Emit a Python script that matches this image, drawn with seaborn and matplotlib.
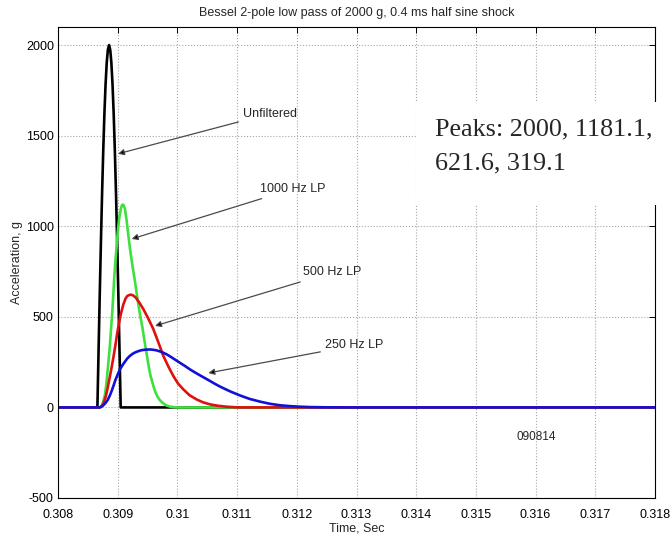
import matplotlib
matplotlib.use("Agg")
import matplotlib.pyplot as plt
import seaborn as sns
import pandas as pd
from matplotlib.patches import Rectangle

# ---------------- data ----------------
t_unf = [0.308000, 0.308660, 0.3086795, 0.308699, 0.3087185, 0.308738, 0.3087575,
         0.308777, 0.3087965, 0.308816, 0.3088355, 0.308855, 0.3088745, 0.308894,
         0.3089135, 0.308933, 0.3089525, 0.308972, 0.3089915, 0.309011, 0.3090305,
         0.309050, 0.318000]
v_unf = [0, 0, 313, 618, 908, 1176, 1414, 1618, 1782, 1902, 1975, 2000, 1975,
         1902, 1782, 1618, 1414, 1176, 908, 618, 313, 0, 0]

t_1000 = [0.308000, 0.308700, 0.308720, 0.308740, 0.308760, 0.308787, 0.308810,
          0.308830, 0.308850, 0.308871, 0.308890, 0.308910, 0.308927, 0.308943,
          0.308960, 0.308980, 0.308995, 0.309010, 0.309030, 0.309055, 0.309070,
          0.309084, 0.309100, 0.309122, 0.309150, 0.309178, 0.309205, 0.309230,
          0.309260, 0.309290, 0.309320, 0.309350, 0.309380, 0.309415, 0.309440,
          0.309470, 0.309500, 0.309525, 0.309550, 0.309580, 0.309610, 0.309640,
          0.309670, 0.309700, 0.309730, 0.309764, 0.309800, 0.309830, 0.309870,
          0.309900, 0.309950, 0.310000, 0.318000]
v_1000 = [0, 0, 5, 15, 35, 72, 130, 200, 270, 350, 440, 530, 625, 722, 800, 880,
          945, 1000, 1055, 1100, 1115, 1120, 1116, 1095, 1030, 950, 880, 820, 755,
          695, 625, 560, 500, 440, 385, 325, 265, 215, 175, 140, 105, 78, 58, 43,
          32, 22, 14, 9, 5, 3, 1, 0, 0]

t_500 = [0.308000, 0.308700, 0.308720, 0.308740, 0.308770, 0.308800, 0.308830,
         0.308860, 0.308899, 0.308930, 0.308960, 0.308985, 0.309010, 0.309050,
         0.309094, 0.309130, 0.309160, 0.309195, 0.309228, 0.309260, 0.309300,
         0.309360, 0.309429, 0.309510, 0.309596, 0.309680, 0.309764, 0.309850,
         0.309931, 0.310010, 0.310099, 0.310200, 0.310323, 0.310430, 0.310546,
         0.310680, 0.310826, 0.310960, 0.311100, 0.318000]
v_500 = [0, 0, 3, 10, 30, 60, 105, 155, 222, 280, 340, 395, 444, 512, 568, 600,
         615, 621, 622, 618, 607, 580, 543, 492, 433, 360, 285, 225, 174, 132,
         100, 68, 44, 28, 17, 9, 4, 1, 0, 0]

t_250 = [0.308000, 0.308700, 0.308730, 0.308760, 0.308795, 0.308830, 0.308865,
         0.308899, 0.308930, 0.308960, 0.309000, 0.309039, 0.309080, 0.309120,
         0.309160, 0.309206, 0.309250, 0.309300, 0.309350, 0.309400, 0.309470,
         0.309541, 0.309600, 0.309650, 0.309700, 0.309764, 0.309820, 0.309880,
         0.309960, 0.310044, 0.310130, 0.310210, 0.310290, 0.310379, 0.310460,
         0.310546, 0.310630, 0.310714, 0.310880, 0.311049, 0.311210, 0.311384,
         0.311550, 0.311719, 0.311890, 0.312054, 0.312220, 0.312389, 0.312800,
         0.318000]
v_250 = [0, 0, 5, 12, 24, 40, 63, 91, 120, 150, 182, 211, 233, 252, 270, 285,
         296, 305, 311, 316, 319, 320, 318, 315, 310, 302, 293, 281, 264, 246,
         228, 210, 194, 177, 162, 146, 130, 115, 89, 66, 47, 32, 20, 12, 7, 4,
         2, 1, 0, 0]

series_names = ["Unfiltered", "1000 Hz LP", "500 Hz LP", "250 Hz LP"]
series_t = [t_unf, t_1000, t_500, t_250]
series_v = [v_unf, v_1000, v_500, v_250]
series_colors = ["#000000", "#3ee03e", "#e01010", "#1010d8"]

# label positions (text left/center) and arrow tips, in data units
label_xy = [(0.311099, 1622), (0.311384, 1206), (0.312104, 746), (0.312472, 342)]
arrow_tip = [(0.309005, 1400), (0.309234, 930), (0.309625, 450), (0.310518, 190)]

x_ticks = [0.308, 0.309, 0.310, 0.311, 0.312, 0.313, 0.314, 0.315, 0.316, 0.317, 0.318]
x_tick_labels = ["0.308", "0.309", "0.31", "0.311", "0.312", "0.313", "0.314",
                 "0.315", "0.316", "0.317", "0.318"]
y_ticks = [-500, 0, 500, 1000, 1500, 2000]

title = "Bessel 2-pole low pass of 2000 g, 0.4 ms half sine shock"
peaks_lines = ["Peaks: 2000, 1181.1,", "621.6, 319.1"]
stamp = "090814"

# ---------------- plotting ----------------
sns.set_theme(style="white")
plt.rcParams["font.family"] = ["Liberation Sans", "DejaVu Sans"]
plt.rcParams["axes.unicode_minus"] = False

W, H = 672, 539
fig = plt.figure(figsize=(W / 100, H / 100), dpi=100)
ax = fig.add_axes([58 / W, 1 - 498 / H, (655 - 58) / W, (498 - 27) / H])

for name, t, v, c in zip(series_names, series_t, series_v, series_colors):
    df = pd.DataFrame({"t": t, "v": v})
    sns.lineplot(data=df, x="t", y="v", color=c, lw=1.9, ax=ax,
                 estimator=None, sort=False)

ax.set_xlim(0.308, 0.318)
ax.set_ylim(-500, 2100)
ax.set_xticks(x_ticks)
ax.set_xticklabels(x_tick_labels)
ax.set_yticks(y_ticks)
ax.grid(True, linestyle=":", color="#a8a8a8", linewidth=0.8)
ax.tick_params(direction="in", top=True, right=True, length=4, width=0.7,
               labelsize=9, colors="black", pad=3)
ax.tick_params(axis="x", pad=8)
for s in ax.spines.values():
    s.set_color("black")
    s.set_linewidth(0.8)

ax.set_title(title, fontsize=9, pad=8)
ax.set_xlabel("Time, Sec", fontsize=9, labelpad=1)
ax.set_ylabel("Acceleration, g", fontsize=9, labelpad=2)

for name, (tx, ty), (ax_, ay_) in zip(series_names, label_xy, arrow_tip):
    ax.annotate(name, xy=(ax_, ay_), xytext=(tx, ty), textcoords="data",
                ha="left", va="center", fontsize=9, zorder=20,
                arrowprops=dict(arrowstyle="-|>", facecolor="black",
                                edgecolor="#4a4a4a", lw=0.9, shrinkA=1,
                                shrinkB=0, mutation_scale=9))

ax.text(0.315672, -162, stamp, ha="left", va="center", fontsize=8.5)

# white "Peaks" box overlaying the axes
fig.add_artist(Rectangle((416 / W, 1 - 205 / H), (W - 416) / W, (205 - 102) / H,
                         transform=fig.transFigure, facecolor="white",
                         edgecolor="none", zorder=10))
fig.text(435 / W, 1 - 129 / H, peaks_lines[0], family=["Liberation Serif"],
         fontsize=18.8, va="center", ha="left", zorder=11)
fig.text(435 / W, 1 - 163 / H, peaks_lines[1], family=["Liberation Serif"],
         fontsize=18.8, va="center", ha="left", zorder=11)

fig.savefig("out.png", dpi=100)
